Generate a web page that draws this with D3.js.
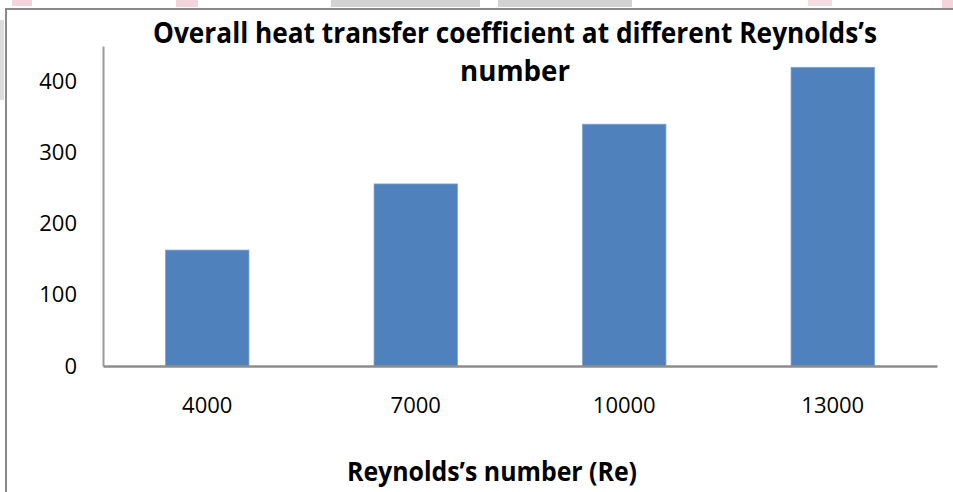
<!DOCTYPE html>
<html>
<head>
<meta charset="utf-8">
<script src="https://cdn.jsdelivr.net/npm/d3@7"></script>
<style>
  html, body { margin: 0; padding: 0; background: #fff; }
  svg { display: block; }
  .tick text { font-family: "Open Sans", "Liberation Sans", sans-serif; font-size: 22px; fill: #000; }
  .title, .axis-title { font-family: "Open Sans", "Liberation Sans", sans-serif; font-weight: bold; fill: #000; }
</style>
</head>
<body>
<div id="chart"></div>
<script>
// data
const categories = ['4000', '7000', '10000', '13000'];
const values = [163, 256, 340, 420];
const yTicks = [0, 100, 200, 300, 400];
const titleLines = ['Overall heat transfer coefficient at different Reynolds\u2019s', 'number'];
const xTitle = 'Reynolds\u2019s number (Re)';

const width = 953, height = 492;
const plot = { left: 103, right: 937, top: 46, bottom: 366 };

const svg = d3.select('#chart').append('svg')
  .attr('width', width)
  .attr('height', height);

// scan leftovers round the frame (grey / pink smudges)
const smudges = [
  { x: 331, y: 0, w: 149, h: 7, c: '#d2d2d2' },
  { x: 498, y: 0, w: 134, h: 7, c: '#d2d2d2' },
  { x: 0, y: 20, w: 4, h: 80, c: '#dcdcdc' },
  { x: 12, y: 0, w: 20, h: 6, c: '#f3d3dc' },
  { x: 176, y: 0, w: 22, h: 7, c: '#f3d3dc' },
  { x: 808, y: 0, w: 24, h: 6, c: '#f6dde4' },
  { x: 942, y: 0, w: 11, h: 8, c: '#f3d3dc' }
];
svg.selectAll('rect.smudge')
  .data(smudges)
  .enter()
  .append('rect')
    .attr('class', 'smudge')
    .attr('x', d => d.x)
    .attr('y', d => d.y)
    .attr('width', d => d.w)
    .attr('height', d => d.h)
    .attr('fill', d => d.c);

// outer chart border
svg.append('path')
  .attr('d', 'M6,' + height + 'V9H' + width)
  .attr('fill', 'none')
  .attr('stroke', '#8a8a8a')
  .attr('stroke-width', 2);

const x = d3.scaleBand()
  .domain(categories)
  .range([plot.left, plot.right])
  .paddingInner(0.6)
  .paddingOuter(0.3);

const y = d3.scaleLinear()
  .domain([0, 450])
  .range([plot.bottom, plot.top]);

// bars
svg.append('g')
  .selectAll('rect')
  .data(values)
  .enter()
  .append('rect')
    .attr('x', (d, i) => x(categories[i]))
    .attr('y', d => y(d))
    .attr('width', x.bandwidth())
    .attr('height', d => y(0) - y(d))
    .attr('fill', '#4f81bd')
    .attr('stroke', '#7ea1cf')
    .attr('stroke-width', 0.8);

// y axis
const yAxis = svg.append('g')
  .attr('transform', 'translate(' + plot.left + ',0)')
  .call(d3.axisLeft(y).tickValues(yTicks).tickSize(0).tickPadding(26));
yAxis.select('.domain').attr('stroke', '#9a9a9a').attr('stroke-width', 2);

// x axis
const xAxis = svg.append('g')
  .attr('transform', 'translate(0,' + plot.bottom + ')')
  .call(d3.axisBottom(x).tickSize(0).tickPadding(31));
xAxis.select('.domain').attr('stroke', '#8c8c8c').attr('stroke-width', 2.5);

// title, two lines like the original
svg.selectAll('text.title')
  .data(titleLines)
  .enter()
  .append('text')
    .attr('class', 'title')
    .attr('x', 515)
    .attr('y', (d, i) => 43 + i * 38)
    .attr('text-anchor', 'middle')
    .style('font-size', '28px')
    .attr('textLength', (d, i) => i === 0 ? 724 : 110)
    .attr('lengthAdjust', 'spacingAndGlyphs')
    .text(d => d);

// axis title
svg.append('text')
  .attr('class', 'axis-title')
  .attr('x', 492)
  .attr('y', 481)
  .attr('text-anchor', 'middle')
  .style('font-size', '26px')
  .attr('textLength', 290)
  .attr('lengthAdjust', 'spacingAndGlyphs')
  .text(xTitle);
</script>
</body>
</html>
